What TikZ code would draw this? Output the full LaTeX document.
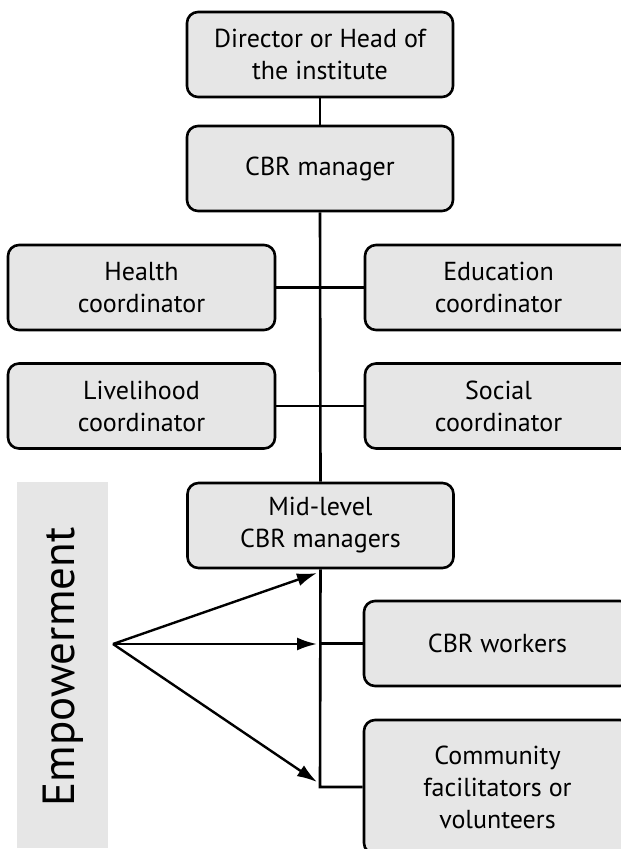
\documentclass[tikz,border=0pt]{standalone}
\usepackage{fontspec}
\setmainfont{PT Sans}
\usetikzlibrary{arrows.meta}
\definecolor{boxgray}{HTML}{E6E6E6}
\tikzset{
  orgbox/.style={draw=black, line width=2.6pt, fill=boxgray, rounded corners=11pt,
    minimum width=266pt, minimum height=85pt, align=center, inner sep=0pt,
    font=\fontsize{26}{32}\selectfont},
  link/.style={line width=2.6pt},
  emparrow/.style={line width=2.4pt, -{Latex[length=20pt,width=13pt]}}
}
\begin{document}
\begin{tikzpicture}[x=1pt,y=-1pt]
\useasboundingbox (0,0) rectangle (621,849);
\clip (0,0) rectangle (621,849);
\fill[boxgray] (17,482) rectangle (108,848);
\node[rotate=90, font=\fontsize{45}{54}\selectfont] (emptext) at (63,667) {Empowerment};

\node[orgbox] (dir) at (320,54.5) {Director or Head of\\the institute};
\node[orgbox] (cbrm) at (320,168.5) {CBR manager};
\node[orgbox, minimum width=267pt] (health) at (141.5,287.5) {Health\\coordinator};
\node[orgbox, minimum width=267pt] (edu) at (498.5,287.5) {Education\\coordinator};
\node[orgbox, minimum width=267pt] (live) at (141.5,406) {Livelihood\\coordinator};
\node[orgbox, minimum width=267pt] (social) at (498.5,406) {Social\\coordinator};
\node[orgbox] (mid) at (320.5,525.5) {Mid-level\\CBR managers};
\node[orgbox, minimum width=267pt] (workers) at (497.5,643.5) {CBR workers};
\node[orgbox, minimum width=267pt, minimum height=134pt] (comm) at (497.5,787) {Community\\facilitators or\\volunteers};

\coordinate (bend) at (320,787);
\coordinate (src) at (113,644);
\coordinate (t1) at (317,573);
\coordinate (t2) at (317,644);
\coordinate (t3) at (317,782);

\draw[link] (dir.south) -- (cbrm.north);
\draw[link] (cbrm.south) -- (mid.north);
\draw[link] (health.east) -- (edu.west);
\draw[link] (live.east) -- (social.west);
\draw[link] (mid.south) -- (bend) -- (comm.west);
\draw[link] (320,643.5) -- (workers.west);

\draw[emparrow] (src) -- (t1);
\draw[emparrow] (src) -- (t2);
\draw[emparrow] (src) -- (t3);
\end{tikzpicture}
\end{document}
